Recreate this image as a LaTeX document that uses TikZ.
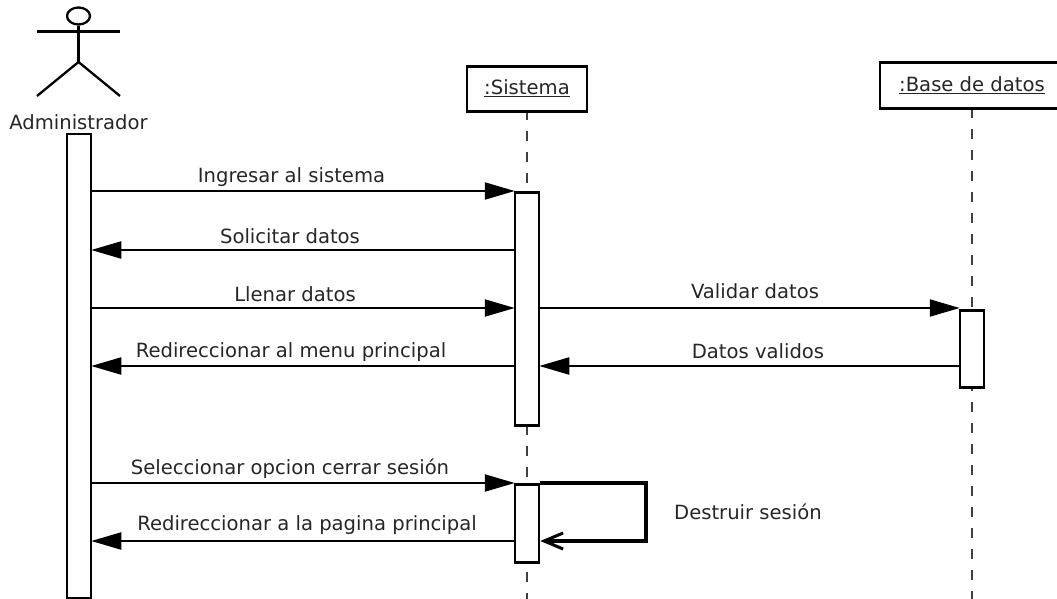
\documentclass[tikz,border=0pt]{standalone}
\usepackage{fontspec}
\setmainfont{DejaVu Sans}
\usetikzlibrary{arrows.meta,shapes.geometric}
\tikzset{
  x=1pt,y=-1pt,
  bar/.style={draw=black,fill=white,line width=2.5pt,minimum width=24pt,inner sep=0pt,anchor=north},
  obj/.style={draw=black,fill=white,line width=2.8pt,inner sep=0pt,anchor=north},
  msg/.style={line width=2.2pt,-{Triangle[length=30pt,width=17pt]},shorten >=-1pt},
  life/.style={draw=black!75,line width=2pt,dash pattern=on 10pt off 11pt},
  txt/.style={font=\fontsize{19.6}{22}\selectfont,text=black!85,inner sep=0pt},
  self/.style={line width=3.6pt,line join=miter,-{Straight Barb[length=19pt,width=16pt,line width=3pt]}},
  stick/.style={line width=2.3pt,draw=black}
}
\begin{document}
\begin{tikzpicture}
\useasboundingbox (0,0) rectangle (1057,599);
% lifelines
\coordinate (sl) at (527,110);
\coordinate (sle) at (527,599);
\coordinate (dl) at (972,108);
\coordinate (dle) at (972,599);
\draw[life] (sl) -- (sle);
\draw[life] (dl) -- (dle);
% actor
\node[draw=black,line width=2.3pt,ellipse,minimum width=23pt,minimum height=17pt,inner sep=0pt] (head) at (78.5,16) {};
\coordinate (hip) at (78.5,62);
\coordinate (armL) at (37,31.5);
\coordinate (armR) at (120,31.5);
\coordinate (legL) at (37,96);
\coordinate (legR) at (120,96);
\draw[stick] (head) -- (hip);
\draw[stick] (armL) -- (armR);
\draw[stick] (legL) -- (hip) -- (legR);
\node[txt] (actor) at (78.5,122.5) {Administrador};
% objects
\node[obj,minimum width=120pt,minimum height=45pt] (sis) at (527,65) {};
\node[txt] (sist) at (527,88) {\underline{:Sistema}};
\node[obj,minimum width=184pt,minimum height=46pt] (db) at (972,61) {};
\node[txt] (dbt) at (972,85) {\underline{:Base de datos}};
% bars
\node[bar,minimum height=464pt] (adminbar) at (79,133) {};
\node[bar,minimum height=233pt] (sisbar) at (527,191) {};
\node[bar,minimum height=78pt] (sisbarb) at (527,483) {};
\node[bar,minimum height=77pt] (dbbar) at (972,309) {};
% message rows
\coordinate (y1) at (0,191);
\coordinate (y2) at (0,250);
\coordinate (y3) at (0,308);
\coordinate (y4) at (0,366);
\coordinate (y5) at (0,483);
\coordinate (y6) at (0,541);
\coordinate (sx) at (646,0);
\draw[msg] (adminbar.east |- y1) -- (sisbar.west |- y1);
\draw[msg] (sisbar.west |- y2) -- (adminbar.east |- y2);
\draw[msg] (adminbar.east |- y3) -- (sisbar.west |- y3);
\draw[msg] (sisbar.east |- y3) -- (dbbar.west |- y3);
\draw[msg] (dbbar.west |- y4) -- (sisbar.east |- y4);
\draw[msg] (sisbar.west |- y4) -- (adminbar.east |- y4);
\draw[msg] (adminbar.east |- y5) -- (sisbarb.west |- y5);
\draw[msg] (sisbarb.west |- y6) -- (adminbar.east |- y6);
\draw[self] (sisbarb.east |- y5) -- (sx |- y5) -- (sx |- y6) -- (sisbarb.east |- y6);
% labels
\node[txt] (l1) at (291.5,177) {Ingresar al sistema};
\node[txt] (l2) at (290,236) {Solicitar datos};
\node[txt] (l3) at (295,294) {Llenar datos};
\node[txt] (l4) at (755,291) {Validar datos};
\node[txt] (l5) at (758,351) {Datos validos};
\node[txt] (l6) at (291,352) {Redireccionar al menu principal};
\node[txt] (l7) at (290,469) {Seleccionar opcion cerrar sesión};
\node[txt] (l8) at (307,525) {Redireccionar a la pagina principal};
\node[txt] (l9) at (748,512) {Destruir sesión};
\end{tikzpicture}
\end{document}
